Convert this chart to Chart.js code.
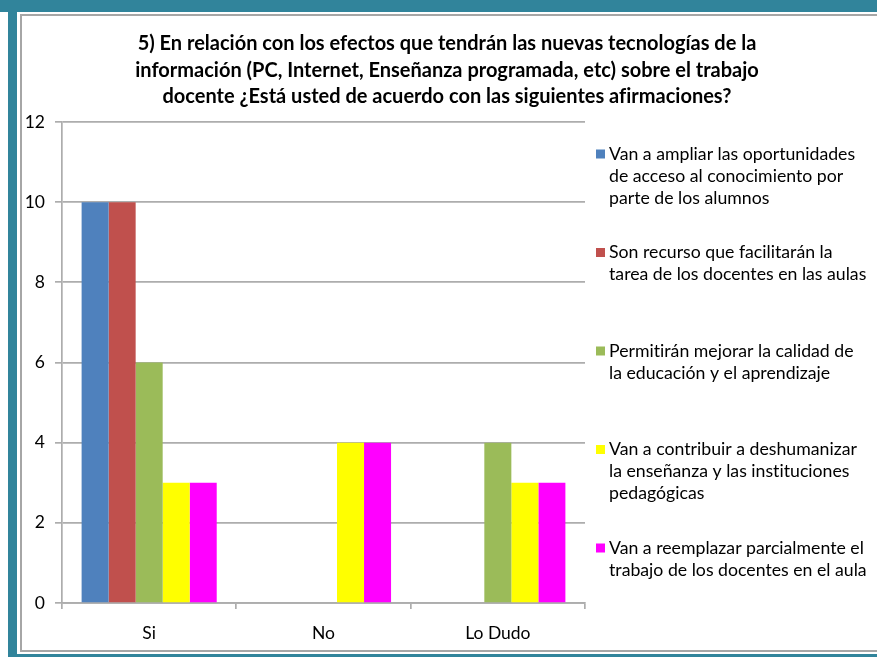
<!DOCTYPE html>
<html>
<head>
<meta charset="utf-8">
<script src="https://cdn.jsdelivr.net/npm/chart.js@4.4.1/dist/chart.umd.min.js"></script>
<style>
    html, body { margin: 0; padding: 0; background: #fff; overflow: hidden; }
    #wrap { position: relative; width: 877px; height: 657px; }
    .teal { position: absolute; background: #31849b; }
    #borde { position: absolute; left: 20px; top: 14px; width: 900px; height: 634px; border: 2px solid #a6a6a6; }
    #grafico { position: absolute; left: 0; top: 0; }
</style>
</head>
<body>
<div id="wrap">
    <div class="teal" style="left:0;top:0;width:877px;height:12px"></div>
    <div class="teal" style="left:8px;top:0;width:9px;height:657px"></div>
    <div class="teal" style="left:8px;top:654px;width:869px;height:3px"></div>
    <div id="borde"></div>
    <canvas id="grafico" width="877" height="657"></canvas>
</div>
<script>
// Datos
const categorias = ['Si', 'No', 'Lo Dudo'];
const ampliar = [10, 0, 0];
const recurso = [10, 0, 0];
const mejorar = [6, 0, 4];
const deshumanizar = [3, 4, 3];
const reemplazar = [3, 4, 3];
const ticksY = [0, 2, 4, 6, 8, 10, 12];

const titulo = [
    '5) En relación con los efectos que tendrán las nuevas tecnologías de la',
    'información (PC, Internet, Enseñanza programada, etc) sobre el trabajo',
    'docente ¿Está usted de acuerdo con las siguientes afirmaciones?'
];

// Etiquetas de la leyenda (ya cortadas en líneas)
const etiquetas = [
    ['Van a ampliar las oportunidades', 'de acceso al conocimiento por', 'parte de los alumnos'],
    ['Son recurso que facilitarán la', 'tarea de los docentes en las aulas'],
    ['Permitirán mejorar la calidad de', 'la educación y el aprendizaje'],
    ['Van a contribuir a deshumanizar', 'la enseñanza y las instituciones', 'pedagógicas'],
    ['Van a reemplazar parcialmente el', 'trabajo de los docentes en el aula']
];
const colores = ['#4f81bd', '#c0504d', '#9bbb59', '#ffff00', '#ff00ff'];
const series = [ampliar, recurso, mejorar, deshumanizar, reemplazar];

const fuente = 'Lato, "Open Sans", sans-serif';

// Título y leyenda dibujados a mano (la leyenda de Chart.js no corta líneas)
const extras = {
    id: 'extras',
    beforeDraw(chart) {
        // sin ligaduras (fi, ti), como en el original
        chart.ctx.textRendering = 'optimizeSpeed';
    },
    afterDraw(chart) {
        const ctx = chart.ctx;
        ctx.save();
        ctx.textRendering = 'optimizeSpeed';
        ctx.fillStyle = '#000';
        ctx.textBaseline = 'middle';

        ctx.font = 'bold 20px ' + fuente;
        ctx.textAlign = 'center';
        titulo.forEach((linea, i) => {
            ctx.fillText(linea, 447, 44 + i * 26.5);
        });

        ctx.font = '17.7px ' + fuente;
        ctx.textAlign = 'left';
        chart.data.datasets.forEach((ds, i) => {
            const y0 = 154 + i * 98.5;
            ctx.fillStyle = ds.backgroundColor;
            ctx.fillRect(596, y0 - 4.5, 9, 9);
            ctx.fillStyle = '#000';
            etiquetas[i].forEach((linea, k) => {
                ctx.fillText(linea, 609, y0 + k * 22);
            });
        });
        ctx.restore();
    }
};

const ctx = document.getElementById('grafico').getContext('2d');
const chart = new Chart(ctx, {
    type: 'bar',
    data: {
        labels: categorias,
        datasets: series.map((valores, i) => ({
            label: etiquetas[i].join(' '),
            data: valores,
            backgroundColor: colores[i],
            borderWidth: 0,
            categoryPercentage: 0.775,
            barPercentage: 1.0
        }))
    },
    options: {
        responsive: false,
        animation: false,
        layout: { padding: { left: 22, right: 292, top: 122, bottom: 8 } },
        plugins: {
            legend: { display: false },
            title: { display: false },
            tooltip: { enabled: false }
        },
        scales: {
            x: {
                afterFit: (s) => { s.height = 46; },
                grid: { drawOnChartArea: false, drawTicks: true, tickLength: 6, color: '#adadad', lineWidth: 1.7 },
                border: { color: '#adadad', width: 1.7 },
                ticks: { color: '#000', padding: 14, font: { family: fuente, size: 17.5 } }
            },
            y: {
                min: 0,
                max: 12,
                afterFit: (s) => { s.width = 40; },
                afterBuildTicks: (s) => { s.ticks = ticksY.map(v => ({ value: v })); },
                grid: { color: '#adadad', lineWidth: 1.7, tickLength: 7 },
                border: { color: '#adadad', width: 1.7 },
                ticks: { color: '#000', padding: 10, font: { family: fuente, size: 17.5 } }
            }
        }
    },
    plugins: [extras]
});
</script>
</body>
</html>
